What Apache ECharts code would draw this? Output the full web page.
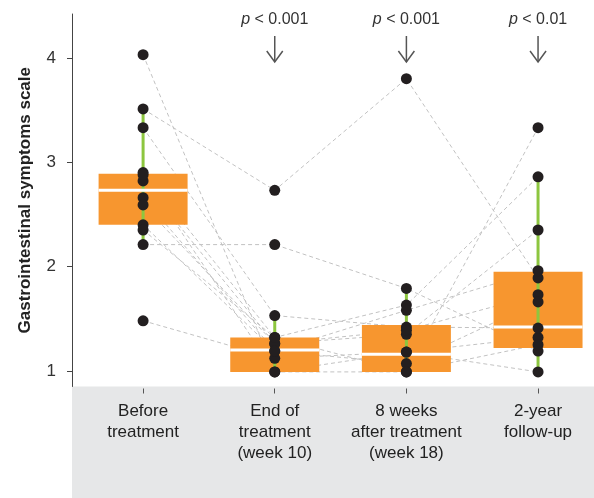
<!DOCTYPE html>
<html>
<head>
<meta charset="utf-8">
<script src="https://cdn.jsdelivr.net/npm/echarts@6/dist/echarts.min.js"></script>
<style>html,body{margin:0;padding:0;background:#fff;}#c{width:594px;height:498px;}</style>
</head>
<body>
<div id="c"></div>
<script>
// ---- data ----
const categories = ['Before\ntreatment', 'End of\ntreatment\n(week 10)', '8 weeks\nafter treatment\n(week 18)', '2-year\nfollow-up'];
const yTicks = [1, 2, 3, 4];
const pLabels = ['', 'p < 0.001', 'p < 0.001', 'p < 0.01'];
// per-patient scores at the four time points
const patient1 = [4.03, 0.99, 0.99, 3.33];
const patient2 = [3.51, 2.73, 3.80, 1.89];
const patient3 = [2.21, 2.21, 1.79, 1.19];
const patient4 = [1.48, 1.12, 1.18, 1.32];
const patient5 = [3.33, 1.53, 1.42, 1.41];
const patient6 = [2.90, 1.32, 1.63, 2.86];
const patient7 = [2.82, 1.26, 1.35, 2.35];
const patient8 = [2.66, 1.19, 1.58, 1.96];
const patient9 = [2.59, 1.26, 1.39, 1.73];
const patient10 = [2.40, 1.19, 1.07, 1.66];
const patient11 = [2.35, 1.32, 0.99, 1.25];
const patient12 = [2.88, 0.99, 1.18, 0.99];
const patients = [patient1, patient2, patient3, patient4, patient5, patient6, patient7, patient8, patient9, patient10, patient11, patient12];
// box statistics per time point
const whiskerLow = [2.21, 0.99, 0.99, 0.99];
const quartile1 = [2.40, 0.99, 0.99, 1.22];
const medians = [2.73, 1.20, 1.16, 1.42];
const quartile3 = [2.89, 1.32, 1.44, 1.95];
const whiskerHigh = [3.51, 1.53, 1.79, 2.86];

// ---- styles ----
const FONT = 'Liberation Sans';
const ORANGE = '#F7962F';
const GREEN = '#8DC63F';
const DOT = '#231F20';
const catIdx = categories.map((c, i) => i);

const chart = echarts.init(document.getElementById('c'));

const lineSeries = patients.map((p, i) => ({
  type: 'line', name: 'patient' + (i + 1), data: p.map((v, j) => [j, v]), symbol: 'none', z: 1, silent: true,
  lineStyle: { color: '#C2C2C2', width: 1, type: [4, 3] }
}));

const boxData = catIdx.map(i => [i, whiskerLow[i], quartile1[i], medians[i], quartile3[i], whiskerHigh[i]]);

const pointData = [];
patients.forEach(p => p.forEach((v, i) => pointData.push([i, v])));

function renderBox(params, api) {
  const x = api.value(0);
  const lo = api.coord([x, api.value(1)]);
  const q1 = api.coord([x, api.value(2)]);
  const md = api.coord([x, api.value(3)]);
  const q3 = api.coord([x, api.value(4)]);
  const hi = api.coord([x, api.value(5)]);
  const bw = api.size([1, 0])[0] * 0.676;
  const cx = lo[0];
  return {
    type: 'group',
    children: [
      { type: 'rect', shape: { x: cx - bw / 2, y: q3[1], width: bw, height: q1[1] - q3[1] }, style: { fill: ORANGE } },
      { type: 'line', shape: { x1: cx, y1: lo[1], x2: cx, y2: hi[1] }, style: { stroke: GREEN, lineWidth: 3 } },
      { type: 'line', shape: { x1: cx - bw / 2, y1: md[1], x2: cx + bw / 2, y2: md[1] }, style: { stroke: '#fff', lineWidth: 3 } }
    ]
  };
}

chart.setOption({
  animation: false,
  textStyle: { fontFamily: FONT },
  grid: { left: 72, top: 14, right: 0, height: 372.5 },
  xAxis: {
    type: 'value', min: -0.54, max: 3.425, offset: 2,
    axisLine: { show: false, onZero: false },
    splitLine: { show: false },
    axisTick: { show: true, customValues: catIdx, length: 5, lineStyle: { color: '#555', width: 1 } },
    axisLabel: { customValues: catIdx, formatter: v => categories[Math.round(v)] || '',
      color: '#222', fontSize: 17, lineHeight: 21, margin: 12, fontFamily: FONT }
  },
  yAxis: {
    type: 'value', min: 0.85, max: 4.42,
    name: 'Gastrointestinal symptoms scale', nameLocation: 'middle', nameGap: 38,
    nameTextStyle: { fontSize: 17, fontWeight: 'bold', color: '#222', fontFamily: FONT },
    axisLine: { show: true, onZero: false, lineStyle: { color: '#444', width: 1 } },
    axisTick: { show: true, length: 5, customValues: yTicks, lineStyle: { color: '#444' } },
    axisLabel: { customValues: yTicks, color: '#333', fontSize: 17, margin: 16, fontFamily: FONT },
    splitLine: { show: false }
  },
  series: lineSeries.concat([
    { type: 'custom', renderItem: renderBox, data: boxData, z: 2, silent: true,
      encode: { x: 0, y: [1, 2, 3, 4, 5] } },
    { type: 'scatter', data: pointData, symbolSize: 11, z: 3, silent: true,
      itemStyle: { color: DOT, opacity: 1 } }
  ])
});

// background band under the category axis + p-value annotations
const gridBottom = chart.convertToPixel({ yAxisIndex: 0 }, 0.85);
const graphics = [{
  type: 'rect', z: -10, silent: true,
  shape: { x: 72, y: gridBottom, width: 594 - 72, height: 498 - gridBottom },
  style: { fill: '#E6E7E8' }
}];
pLabels.forEach((t, i) => {
  if (!t) return;
  const x = chart.convertToPixel({ xAxisIndex: 0 }, i);
  graphics.push({
    type: 'text', z: 10, silent: true, x: x, y: 20,
    style: {
      text: '{i|p}' + t.slice(1), align: 'center', verticalAlign: 'middle',
      fontSize: 16, fontFamily: FONT, fill: '#333',
      rich: { i: { fontStyle: 'italic', fontSize: 16, fontFamily: FONT, fill: '#333' } }
    }
  });
  graphics.push({
    type: 'polyline', z: 10, silent: true,
    shape: { points: [[x, 36], [x, 62]] }, style: { stroke: '#555', lineWidth: 1.5, fill: null }
  });
  graphics.push({
    type: 'polyline', z: 10, silent: true,
    shape: { points: [[x - 8, 51], [x, 62], [x + 8, 51]] }, style: { stroke: '#555', lineWidth: 1.5, fill: null }
  });
});
chart.setOption({ graphic: graphics });
</script>
</body>
</html>
